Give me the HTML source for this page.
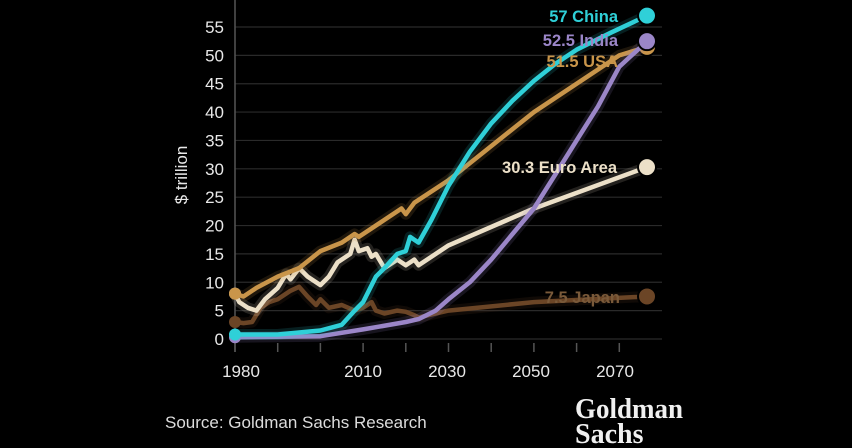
<!DOCTYPE html>
<html><head><meta charset="utf-8"><style>
html,body{margin:0;padding:0;background:#000;}
svg{display:block;}
</style></head><body>
<svg id="s" width="852" height="448" viewBox="0 0 852 448" xmlns="http://www.w3.org/2000/svg">
<rect width="852" height="448" fill="#000"/>
<g id="grid"></g>
<line x1="235" y1="0" x2="235" y2="352" stroke="#555" stroke-width="1.5"/>
<g id="ticks"></g>
<g font-family="Liberation Sans, sans-serif" font-size="17" fill="#e8e8e8" text-anchor="end" id="ylab"></g>
<text transform="translate(187,175) rotate(-90)" font-family="Liberation Sans, sans-serif" font-size="17" fill="#e8e8e8" text-anchor="middle">$ trillion</text>
<g font-family="Liberation Sans, sans-serif" font-size="17" fill="#e8e8e8" text-anchor="middle">
<text x="241" y="377">1980</text><text x="363" y="377">2010</text><text x="447" y="377">2030</text><text x="531" y="377">2050</text><text x="615" y="377">2070</text>
</g>
<g id="lines" fill="none" stroke-linejoin="round" stroke-linecap="round"></g>
<g font-family="Liberation Sans, sans-serif" font-size="16.5" font-weight="bold" text-anchor="end">
<text x="618" y="22" fill="#2fd0d8">57 China</text>
<text x="618" y="46" fill="#9b86c8">52.5 India</text>
<text x="618" y="67" fill="#c9954a">51.5 USA</text>
<text x="617" y="173" fill="#ece0c8">30.3 Euro Area</text>
<text x="620" y="303" fill="#7a5a3a">7.5 Japan</text>
</g>
<text x="165" y="428" font-family="Liberation Sans, sans-serif" font-size="17" fill="#dcdcdc">Source: Goldman Sachs Research</text>
<g font-family="Liberation Serif, serif" font-size="28" font-weight="bold" fill="#f0f0f0">
<text x="575" y="418" textLength="108" lengthAdjust="spacingAndGlyphs">Goldman</text><text x="575" y="443">Sachs</text>
</g>
</svg>
<script>
var X=function(y){return 235+(y-1980)*4.27},Y=function(v){return 339-v*5.673};
var ns="http://www.w3.org/2000/svg";
function el(p,t,a){var e=document.createElementNS(ns,t);for(var k in a)e.setAttribute(k,a[k]);document.getElementById(p).appendChild(e);return e;}
for(var v=0;v<=55;v+=5){el("grid","line",{x1:235,x2:662,y1:Y(v),y2:Y(v),stroke:"#2a2a2a","stroke-width":1.2});
var t=el("ylab","text",{x:224,y:Y(v)+6});t.textContent=v;}
for(var yr=1980;yr<=2070;yr+=10)el("ticks","line",{x1:X(yr),x2:X(yr),y1:343,y2:352,stroke:"#555","stroke-width":1.5});
var D={
jp:["#6b4526",[[1980,3],[1982,2.8],[1984,3],[1986,5.5],[1988,6.5],[1990,7],[1993,8.5],[1995,9.2],[1997,7.5],[1999,6],[2000,7],[2002,5.5],[2005,6],[2008,5],[2010,5.5],[2012,6.5],[2013,5],[2015,4.5],[2018,5],[2020,4.8],[2022,4.2],[2023,3.8],[2030,5],[2050,6.5],[2076.5,7.5]]],
eu:["#ece0c8",[[1980,8],[1981,6.5],[1983,5.5],[1985,5],[1987,7],[1990,9],[1992,11.5],[1993,10.5],[1995,12.5],[1997,11],[1999,10],[2000,9.5],[2002,11],[2004,13.5],[2007,15],[2008,17.5],[2009,15.5],[2011,16],[2012,14.5],[2013,15],[2015,12.5],[2018,14],[2020,13],[2022,14],[2023,13],[2030,16.5],[2050,23],[2076.5,30.3]]],
us:["#c9954a",[[1980,8],[1982,7.5],[1985,9],[1990,11],[1995,12.5],[2000,15.5],[2005,17],[2008,18.5],[2009,18],[2015,21],[2019,23],[2020,22],[2022,24],[2030,28],[2040,34],[2050,40],[2060,45],[2070,50],[2076.5,51.5]]],
ind:["#9b86c8",[[1980,0.3],[2000,0.5],[2010,1.7],[2020,3],[2023,3.5],[2027,5],[2030,7],[2035,10],[2040,14],[2045,18.5],[2050,23],[2055,29],[2060,35],[2065,41],[2070,48],[2076.5,52.5]]],
cn:["#2fd0d8",[[1980,0.8],[1990,0.8],[2000,1.5],[2005,2.5],[2008,5],[2010,6.5],[2013,11],[2015,12.5],[2018,15],[2020,15.5],[2021,18],[2022,17.5],[2023,17],[2026,21],[2030,27],[2035,33],[2040,38],[2045,42],[2050,45.5],[2055,48.5],[2060,51],[2068,54],[2076.5,57]]]};
["jp","eu","us","ind","cn"].forEach(function(k){var c=D[k][0],p=D[k][1].map(function(a){return X(a[0]).toFixed(1)+","+Y(a[1]).toFixed(1)}).join(" ");
el("lines","polyline",{points:p,stroke:c,"stroke-width":11,"stroke-opacity":0.15});
el("lines","polyline",{points:p,stroke:c,"stroke-width":4.5});
var f=D[k][1][0];el("lines","circle",{cx:X(f[0]),cy:Y(f[1]),r:6,fill:c,stroke:"none"});
var l=D[k][1][D[k][1].length-1];el("lines","circle",{cx:647,cy:Y(l[1]),r:9,fill:c,stroke:"#000","stroke-width":2});});
</script>
</body></html>
